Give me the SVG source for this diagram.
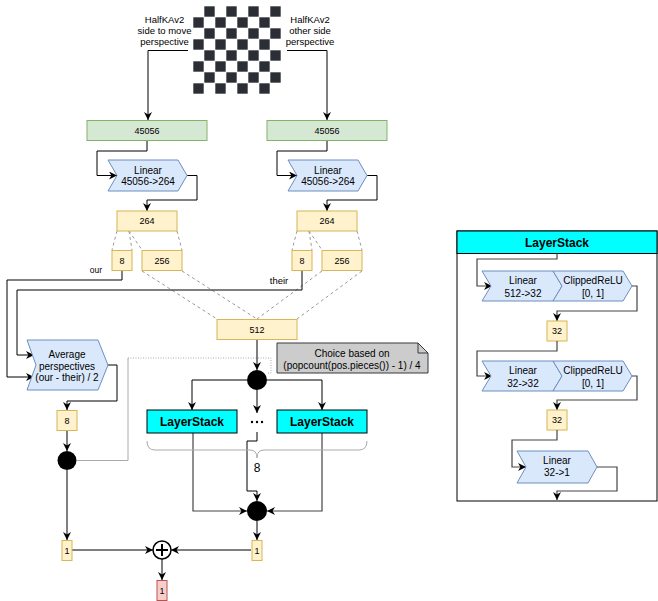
<svg xmlns="http://www.w3.org/2000/svg" width="658" height="601" viewBox="0 0 658 601">
<style>
text{font-family:"Liberation Sans",Arial,sans-serif;fill:#000;text-anchor:middle}
.t9{font-size:9px}.t10{font-size:10px}.t95{font-size:9.5px}
.b12{font-size:12px;font-weight:bold}
.grn{fill:#d5e8d4;stroke:#82b366;stroke-width:1}
.yel{fill:#fff2cc;stroke:#d6b656;stroke-width:1}
.red{fill:#f8cecc;stroke:#b85450;stroke-width:1}
.blu{fill:#dae8fc;stroke:#6c8ebf;stroke-width:1}
.cyan{fill:#00ffff;stroke:#000;stroke-width:1}
.ln{fill:none;stroke:#000;stroke-width:1}
.lg{fill:none;stroke:#444;stroke-width:1.2}
.dash{fill:none;stroke:#999;stroke-width:1;stroke-dasharray:3 3}
</style>
<defs>
<marker id="arr" viewBox="0 0 10 10" refX="10" refY="5" markerWidth="8" markerHeight="8" markerUnits="userSpaceOnUse" orient="auto">
<path d="M0,0 L10,5 L0,10 L3,5 Z" fill="#000"/>
</marker>
<pattern id="chk" patternUnits="userSpaceOnUse" x="193" y="6" width="22" height="22">
<rect x="11.3" y="0.3" width="10.4" height="10.4" fill="#2b2f35"/>
<rect x="0.3" y="11.3" width="10.4" height="10.4" fill="#2b2f35"/>
</pattern>
</defs>
<rect width="658" height="601" fill="#fff"/>

<g id="connectors">
<path class="ln" d="M188,50.5 H148 V120" marker-end="url(#arr)"/>
<path class="ln" d="M287,50.5 H327 V120" marker-end="url(#arr)"/>
<path class="ln" d="M147,141 V151 H97 V175.5 H117" marker-end="url(#arr)"/>
<path class="ln" d="M327,141 V151 H277 V175.5 H297" marker-end="url(#arr)"/>
<path class="ln" d="M187,175.5 H197 V200 H147 V211" marker-end="url(#arr)"/>
<path class="ln" d="M367,175.5 H377 V200 H327 V211" marker-end="url(#arr)"/>
<path class="dash" d="M117,231 L112,250 M129,231 L132,250 M129,231 L142,250 M177,231 L182,250"/>
<path class="dash" d="M297,231 L292,250 M309,231 L312,250 M309,231 L322,250 M357,231 L362,250"/>
<path class="dash" d="M142,271 L217,319 M182,271 L257,319 M322,271 L257,319 M362,271 L297,319"/>
<path class="ln" d="M122,271 V280 H7 V377 H34" marker-end="url(#arr)"/>
<path class="ln" d="M302,271 V290 H17 V355 H34" marker-end="url(#arr)"/>
<path class="ln" d="M107,365 H117 V401 H67 V410" marker-end="url(#arr)"/>
<path class="ln" d="M67,430 V451" marker-end="url(#arr)"/>
<path fill="none" stroke="#aaa" stroke-width="1" d="M77,460.5 H128 V358"/>
<path fill="none" stroke="#aaa" stroke-width="1" stroke-dasharray="1 1.5" d="M128,358 H271 V373 H267"/>
<path class="ln" d="M257,340 V370" marker-end="url(#arr)"/>
<path class="ln" d="M247,380 H192 V410" marker-end="url(#arr)"/>
<path class="ln" d="M267,380 H322 V410" marker-end="url(#arr)"/>
<path class="ln" d="M257,390 V413" marker-end="url(#arr)"/>
<path class="ln" d="M257,432 V441 H247 V491 H257 V501" marker-end="url(#arr)"/>
<path class="lg" d="M193,433 V511 H247" marker-end="url(#arr)"/>
<path class="lg" d="M322,433 V511 H267" marker-end="url(#arr)"/>
<path class="ln" d="M257,521 V540" marker-end="url(#arr)"/>
<path class="ln" d="M67,470 V540" marker-end="url(#arr)"/>
<path class="ln" d="M72,550 H153" marker-end="url(#arr)"/>
<path class="ln" d="M251,550 H171" marker-end="url(#arr)"/>
<path class="ln" d="M162,559 V580" marker-end="url(#arr)"/>
<path fill="none" stroke="#aaa" stroke-width="1" d="M147,441 Q147,450 155,450 H250 Q257,450 257,458 Q257,450 264,450 H359 Q367,450 367,441"/>
</g>

<g id="board"><rect x="193" y="6" width="88" height="88" fill="url(#chk)"/></g>
<g id="label-our-side"><text class="t95" x="164.5" y="23">HalfKAv2</text><text class="t95" x="164.5" y="34">side to move</text><text class="t95" x="164.5" y="45">perspective</text></g>
<g id="label-their-side"><text class="t95" x="310" y="23">HalfKAv2</text><text class="t95" x="310" y="34">other side</text><text class="t95" x="310" y="45">perspective</text></g>

<g id="in-left"><rect class="grn" x="87" y="120.5" width="120" height="20"/><text class="t9" x="147" y="133.5">45056</text></g>
<g id="in-right"><rect class="grn" x="267" y="120.5" width="120" height="20"/><text class="t9" x="327" y="133.5">45056</text></g>

<g id="linear-left"><path class="blu" d="M108,160 H178 L187,175.5 L178,191 H108 L117,175.5 Z"/><text class="t10" x="148" y="173.5">Linear</text><text class="t10" x="148" y="185">45056-&gt;264</text></g>
<g id="linear-right"><path class="blu" d="M288,160 H358 L367,175.5 L358,191 H288 L297,175.5 Z"/><text class="t10" x="328" y="173.5">Linear</text><text class="t10" x="328" y="185">45056-&gt;264</text></g>

<g id="acc-left"><rect class="yel" x="117" y="211" width="60" height="20"/><text class="t9" x="147" y="224">264</text></g>
<g id="acc-right"><rect class="yel" x="297" y="211" width="60" height="20"/><text class="t9" x="327" y="224">264</text></g>
<g id="psqt-left"><rect class="yel" x="112" y="250.5" width="20" height="20"/><text class="t9" x="122" y="263.5">8</text></g>
<g id="feat-left"><rect class="yel" x="142" y="250.5" width="40" height="20"/><text class="t9" x="162" y="263.5">256</text></g>
<g id="psqt-right"><rect class="yel" x="292" y="250.5" width="20" height="20"/><text class="t9" x="302" y="263.5">8</text></g>
<g id="feat-right"><rect class="yel" x="322" y="250.5" width="40" height="20"/><text class="t9" x="342" y="263.5">256</text></g>
<g id="label-our"><text x="96" y="273" style="font-size:8.5px">our</text></g>
<g id="label-their"><text class="t95" x="279" y="284">their</text></g>
<g id="concat"><rect class="yel" x="217" y="319.5" width="80" height="20"/><text class="t9" x="257" y="332.5">512</text></g>

<g id="average"><path class="blu" d="M27,340 H98 L108,365 L98,390 H27 L36,365 Z"/><text class="t10" x="67" y="357.5">Average</text><text class="t10" x="67" y="369.5">perspectives</text><text class="t10" x="67" y="381">(our - their) / 2</text></g>
<g id="psqt-out"><rect class="yel" x="57" y="410.5" width="20" height="20"/><text class="t9" x="67" y="423.5">8</text></g>
<g id="select-psqt"><circle cx="67" cy="460.5" r="9.5" fill="#000"/></g>

<g id="note"><path d="M277,343 H418 L428,353 V373 H277 Z" fill="#cccccc" stroke="#36393d" stroke-width="1"/><path d="M418,343 V353 H428" fill="none" stroke="#36393d" stroke-width="1"/><text class="t10" x="352" y="356.5">Choice based on</text><text class="t10" x="352" y="368.5">(popcount(pos.pieces()) - 1) / 4</text></g>
<g id="choice"><circle cx="257" cy="380" r="10" fill="#000"/></g>
<g id="layerstack-1"><rect class="cyan" x="147" y="410" width="90" height="23"/><text class="b12" x="192" y="425.5">LayerStack</text></g>
<g id="layerstack-n"><rect class="cyan" x="277" y="410" width="90" height="23"/><text class="b12" x="322" y="425.5">LayerStack</text></g>
<g id="dots"><circle cx="252" cy="422" r="1.2"/><circle cx="257" cy="422" r="1.2"/><circle cx="262" cy="422" r="1.2"/></g>
<g id="brace-label"><text x="257" y="471.5" style="font-size:12px">8</text></g>
<g id="merge"><circle cx="257" cy="511" r="10" fill="#000"/></g>
<g id="out-left"><rect class="yel" x="62" y="540.5" width="10" height="20"/><text class="t9" x="67" y="553.5">1</text></g>
<g id="out-right"><rect class="yel" x="252" y="540.5" width="10" height="20"/><text class="t9" x="257" y="553.5">1</text></g>
<g id="plus"><circle cx="162" cy="550" r="9" fill="#fff" stroke="#000" stroke-width="1.5"/><path d="M156,550 H168 M162,544 V556" stroke="#000" stroke-width="2"/></g>
<g id="final"><rect class="red" x="157" y="580.5" width="10" height="20"/><text class="t9" x="162" y="593.5">1</text></g>

<g id="layerstack-panel">
<rect x="457" y="231" width="200" height="270" fill="#fff" stroke="#000" stroke-width="1"/>
<rect class="cyan" x="457" y="231" width="200" height="22.5"/>
<text class="b12" x="557" y="246.5">LayerStack</text>
<path class="lg" d="M557,253.5 V259 H477 V286 H492" marker-end="url(#arr)"/>
<path class="blu" d="M482,271 H553 L562,286 L553,301 H482 L491,286 Z"/>
<path class="blu" d="M553,271 H623 L632,286 L623,301 H553 L562,286 Z"/>
<text class="t10" x="523" y="283.5">Linear</text><text class="t10" x="523" y="296.5">512-&gt;32</text>
<text class="t10" x="593" y="283.5">ClippedReLU</text><text class="t10" x="593" y="296.5">[0, 1]</text>
<path class="lg" d="M632,286 H637 V311 H557 V321" marker-end="url(#arr)"/>
<rect class="yel" x="547" y="321" width="20" height="20"/><text class="t9" x="557" y="334">32</text>
<path class="lg" d="M557,341 V351 H477 V376 H492" marker-end="url(#arr)"/>
<path class="blu" d="M482,361 H553 L562,376 L553,391 H482 L491,376 Z"/>
<path class="blu" d="M553,361 H623 L632,376 L623,391 H553 L562,376 Z"/>
<text class="t10" x="523" y="373.5">Linear</text><text class="t10" x="523" y="386.5">32-&gt;32</text>
<text class="t10" x="593" y="373.5">ClippedReLU</text><text class="t10" x="593" y="386.5">[0, 1]</text>
<path class="lg" d="M632,376 H637 V400 H557 V410" marker-end="url(#arr)"/>
<rect class="yel" x="547" y="410" width="20" height="20"/><text class="t9" x="557" y="423">32</text>
<path class="lg" d="M557,430 V440 H512 V467 H526" marker-end="url(#arr)"/>
<path class="blu" d="M517,451 H588 L597,467 L588,483 H517 L526,467 Z"/>
<text class="t10" x="557" y="463.5">Linear</text><text class="t10" x="557" y="475.5">32-&gt;1</text>
<path class="lg" d="M597,467 H617 V491 H557 V500" marker-end="url(#arr)"/>
</g>
</svg>
